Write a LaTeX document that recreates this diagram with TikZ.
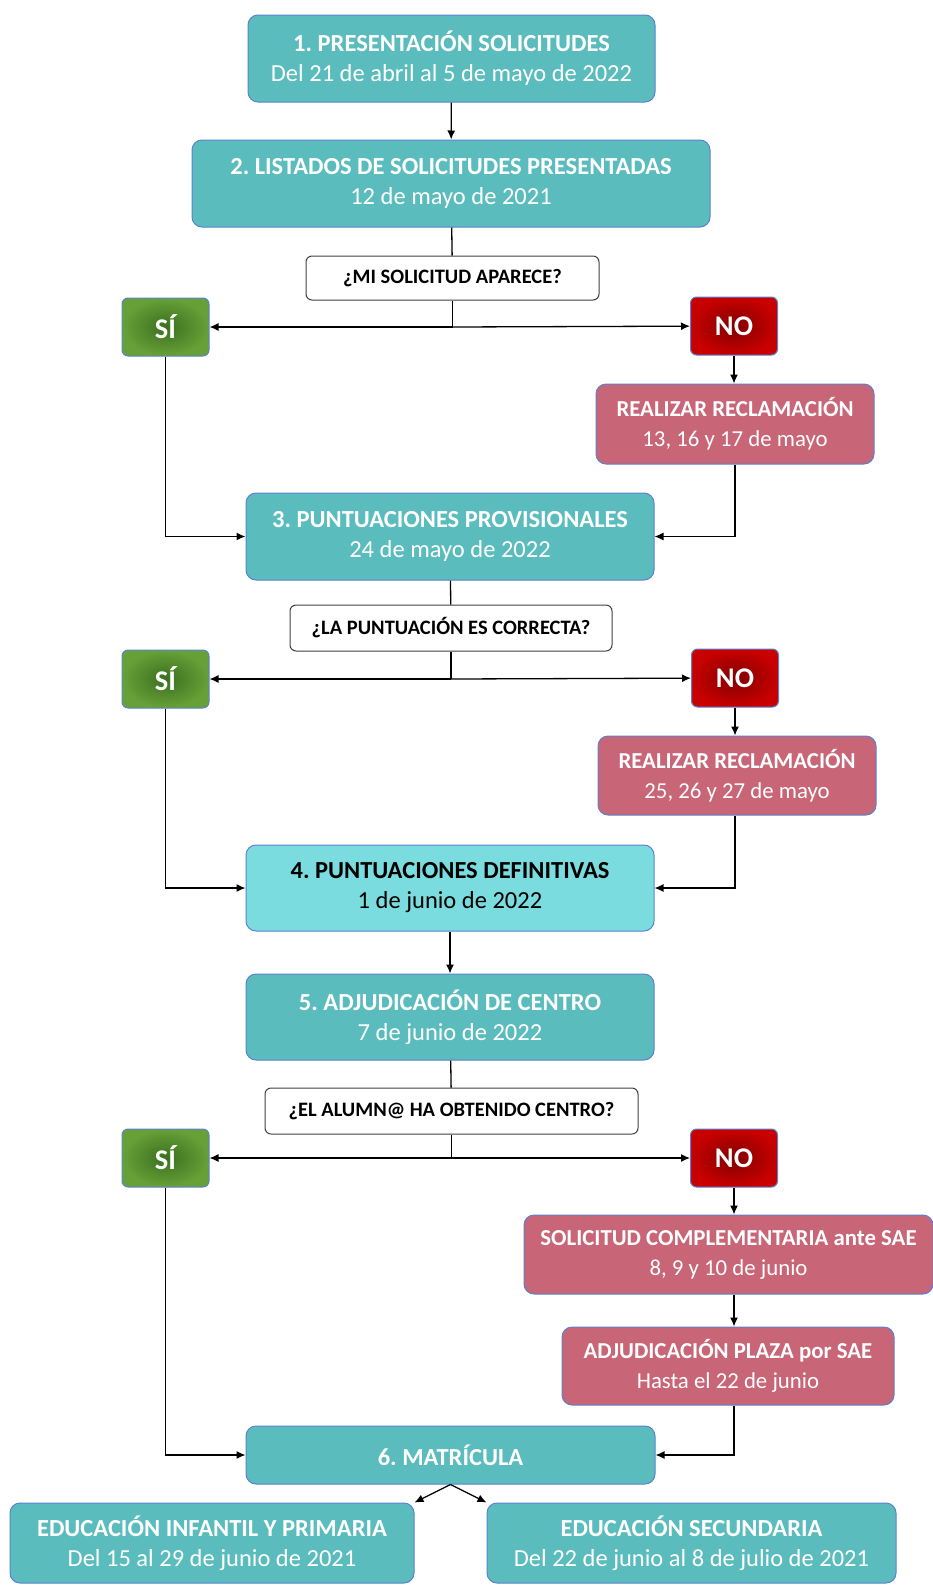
\documentclass[tikz,border=0pt]{standalone}
\usepackage{fontspec}
\setmainfont{Carlito}
\usetikzlibrary{arrows.meta}
\frenchspacing

\definecolor{tealbox}{RGB}{91,188,189}
\definecolor{lighttealbox}{RGB}{122,220,222}
\definecolor{pinkbox}{RGB}{200,101,118}
\definecolor{boxline}{RGB}{90,130,210}
\definecolor{greenout}{RGB}{104,160,56}
\definecolor{greenin}{RGB}{58,112,30}
\definecolor{redout}{RGB}{200,0,0}
\definecolor{redin}{RGB}{130,0,0}

\tikzset{%
    stage/.style = {draw = boxline, line width = 1pt, fill = tealbox,
        rounded corners = 10pt, text = white, align = center,
        font = \fontsize{24.5}{30}\selectfont},
    claim/.style = {stage, fill = pinkbox,
        font = \fontsize{22.8}{30}\selectfont},
    question/.style = {draw = black!75, line width = 1pt, fill = white,
        rounded corners = 6pt, align = center,
        font = \bfseries\fontsize{20.5}{24}\selectfont},
    yesbox/.style = {draw = boxline, line width = 1pt, rounded corners = 6pt,
        inner color = greenin, outer color = greenout, text = white,
        minimum width = 87pt, minimum height = 58pt,
        font = \bfseries\fontsize{28.5}{32}\selectfont},
    nobox/.style = {yesbox, inner color = redin, outer color = redout}
}

\begin{document}
\begin{tikzpicture}[%
        x = 1pt,
        y = -1pt,
        > = {Latex[length = 9pt, width = 8pt]},
        line width = 1.3pt
    ]

        \useasboundingbox (0, 0) rectangle (933, 1585);

        % Main stages.
        \node[stage, minimum width = 407pt, minimum height = 87pt] (p1) at (451.5, 58.5)
            {\textbf{1. PRESENTACIÓN SOLICITUDES}\\Del 21 de abril al 5 de mayo de 2022};
        \node[stage, minimum width = 518pt, minimum height = 87pt] (p2) at (451, 183.5)
            {\textbf{2. LISTADOS DE SOLICITUDES PRESENTADAS}\\12 de mayo de 2021};
        \node[stage, minimum width = 408pt, minimum height = 87pt] (p3) at (450, 536.5)
            {\textbf{3. PUNTUACIONES PROVISIONALES}\\24 de mayo de 2022};
        \node[stage, fill = lighttealbox, text = black, minimum width = 408pt,
            minimum height = 86pt] (p4) at (450, 888)
            {\textbf{4. PUNTUACIONES DEFINITIVAS}\\1 de junio de 2022};
        \node[stage, minimum width = 408pt, minimum height = 86pt] (p5) at (450, 1017)
            {\textbf{5. ADJUDICACIÓN DE CENTRO}\\7 de junio de 2022};
        \node[stage, minimum width = 409pt, minimum height = 58pt] (p6) at (450.5, 1455)
            {\textbf{6. MATRÍCULA}};
        \node[stage, minimum width = 404pt, minimum height = 80pt] (edu1) at (212, 1543)
            {\textbf{EDUCACIÓN INFANTIL Y PRIMARIA}\\Del 15 al 29 de junio de 2021};
        \node[stage, minimum width = 409pt, minimum height = 80pt] (edu2) at (691.5, 1543)
            {\textbf{EDUCACIÓN SECUNDARIA}\\Del 22 de junio al 8 de julio de 2021};

        % Questions.
        \node[question, minimum width = 293pt, minimum height = 44pt] (q1) at (452.5, 278)
            {¿MI SOLICITUD APARECE?};
        \node[question, minimum width = 322pt, minimum height = 46pt] (q2) at (451, 628)
            {¿LA PUNTUACIÓN ES CORRECTA?};
        \node[question, minimum width = 373pt, minimum height = 46pt] (q3) at (451.5, 1111)
            {¿EL ALUMN@ HA OBTENIDO CENTRO?};

        % Answers.
        \node[yesbox] (si1) at (165.5, 327) {SÍ};
        \node[nobox] (no1) at (734, 326) {NO};
        \node[yesbox] (si2) at (165.5, 679) {SÍ};
        \node[nobox] (no2) at (735, 678) {NO};
        \node[yesbox] (si3) at (165.5, 1158) {SÍ};
        \node[nobox] (no3) at (734, 1158) {NO};

        % Claims.
        \node[claim, minimum width = 278pt, minimum height = 80pt] (rec1) at (735, 424)
            {\textbf{REALIZAR RECLAMACIÓN}\\13, 16 y 17 de mayo};
        \node[claim, minimum width = 278pt, minimum height = 79pt] (rec2) at (737, 775.5)
            {\textbf{REALIZAR RECLAMACIÓN}\\25, 26 y 27 de mayo};
        \node[claim, minimum width = 409pt, minimum height = 79pt] (comp) at (728.5, 1254.5)
            {\textbf{SOLICITUD COMPLEMENTARIA ante SAE}\\8, 9 y 10 de junio};
        \node[claim, minimum width = 332pt, minimum height = 78pt] (plaza) at (728, 1366)
            {\textbf{ADJUDICACIÓN PLAZA por SAE}\\Hasta el 22 de junio};

        % Branch points.
        \coordinate (j1) at (q1.south |- si1.east);
        \coordinate (j2) at (q2.south |- si2.east);
        \coordinate (j3) at (q3.south |- si3.east);

        % Connectors.
        \draw[->] (p1) -- (p2);
        \draw (p2) -- (q1);
        \draw (q1.south) -- (j1);
        \draw[->] (j1) -- (si1);
        \draw[->] (j1) -- (no1);
        \draw[->] (no1) -- (no1 |- rec1.north);
        \draw[->] (si1.south) |- (p3.west);
        \draw[->] (rec1.south) |- (p3.east);

        \draw (p3) -- (q2);
        \draw (q2.south) -- (j2);
        \draw[->] (j2) -- (si2);
        \draw[->] (j2) -- (no2);
        \draw[->] (no2) -- (no2 |- rec2.north);
        \draw[->] (si2.south) |- (p4.west);
        \draw[->] (rec2.south -| no2) |- (p4.east);

        \draw[->] (p4) -- (p5);
        \draw (p5) -- (q3);
        \draw (q3.south) -- (j3);
        \draw[->] (j3) -- (si3);
        \draw[->] (j3) -- (no3);
        \draw[->] (no3) -- (no3 |- comp.north);
        \draw[->] (comp.south -| no3) -- (plaza.north -| no3);
        \draw[->] (si3.south) |- (p6.west);
        \draw[->] (plaza.south -| no3) |- (p6.east);
        \draw[->] (p6.south) -- (edu1.north east);
        \draw[->] (p6.south) -- (edu2.north west);
    \end{tikzpicture}
\end{document}
